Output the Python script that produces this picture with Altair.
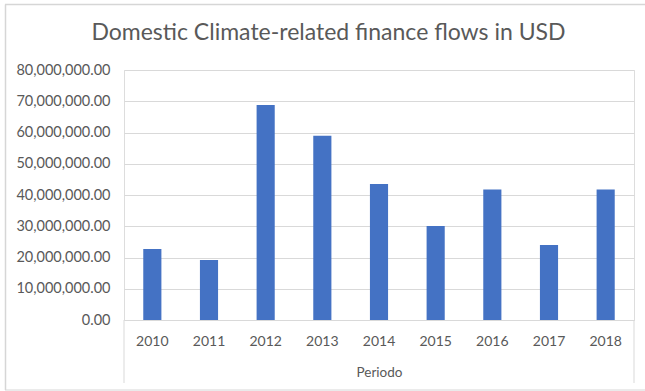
import altair as alt
import pandas as pd

# Annual domestic climate-related finance flows (USD)
years = ["2010", "2011", "2012", "2013", "2014", "2015", "2016", "2017", "2018"]
flows_usd = [22700000, 19200000, 68800000, 59000000, 43500000,
             30100000, 41800000, 24000000, 41800000]
chart_title = "Domestic Climate-related finance flows in USD"

df = pd.DataFrame({"Periodo": years, "Flow": flows_usd})

W, H = 510, 250
GRID = "#d9d9d9"
TEXT = "#595959"
FONT = "Lato"

bars = alt.Chart(df).mark_bar(color="#4472C4").encode(
    x=alt.X(
        "Periodo:N",
        sort=years,
        scale=alt.Scale(paddingInner=0.68, paddingOuter=0.34),
        axis=alt.Axis(
            title="Periodo",
            labelAngle=0,
            labelFont=FONT,
            labelFontSize=14,
            labelColor=TEXT,
            labelPadding=14,
            ticks=False,
            domainColor=GRID,
            domainWidth=1,
            titleFont=FONT,
            titleFontSize=13.5,
            titleFontWeight="normal",
            titleColor=TEXT,
            titlePadding=17,
        ),
    ),
    y=alt.Y(
        "Flow:Q",
        scale=alt.Scale(domain=[0, 80000000]),
        axis=alt.Axis(
            title=None,
            format=",.2f",
            values=[i * 10000000 for i in range(9)],
            labelFont=FONT,
            labelFontSize=14.5,
            labelColor=TEXT,
            labelPadding=14,
            ticks=False,
            domain=False,
            gridColor=GRID,
            gridWidth=1,
        ),
    ),
)

one = alt.Data(values=[{"t": chart_title}])

# Chart heading, centred over the whole figure
heading = alt.Chart(one).mark_text(
    font=FONT, fontSize=23, color=TEXT, align="center", baseline="alphabetic"
).encode(text="t:N", x=alt.value(204.5), y=alt.value(-30))

# Category-axis frame: side walls below the plot area
axis_left = alt.Chart(one).mark_rule(color=GRID, strokeWidth=1).encode(
    x=alt.value(0), y=alt.value(H), y2=alt.value(H + 63)
)
axis_right = alt.Chart(one).mark_rule(color=GRID, strokeWidth=1).encode(
    x=alt.value(W), y=alt.value(H), y2=alt.value(H + 63)
)

# Outer chart border (top, left, bottom)
BORDER = "#d6d6d6"
border_top = alt.Chart(one).mark_rule(color=BORDER, strokeWidth=1.5).encode(
    x=alt.value(-119), x2=alt.value(521), y=alt.value(-65.5)
)
border_left = alt.Chart(one).mark_rule(color=BORDER, strokeWidth=1.5).encode(
    x=alt.value(-118.5), y=alt.value(-65.5), y2=alt.value(320)
)
border_bottom = alt.Chart(one).mark_rule(color=BORDER, strokeWidth=1).encode(
    x=alt.value(-119), x2=alt.value(521), y=alt.value(320)
)

chart = alt.layer(
    bars, heading, axis_left, axis_right, border_top, border_left, border_bottom
).properties(
    width=W,
    height=H,
    autosize=alt.AutoSizeParams(type="none"),
    padding={"left": 124, "top": 70, "right": 11, "bottom": 71},
).configure_view(stroke=None).configure(background="white")

chart.save("out.html", embed_options={"renderer": "svg", "actions": False})
